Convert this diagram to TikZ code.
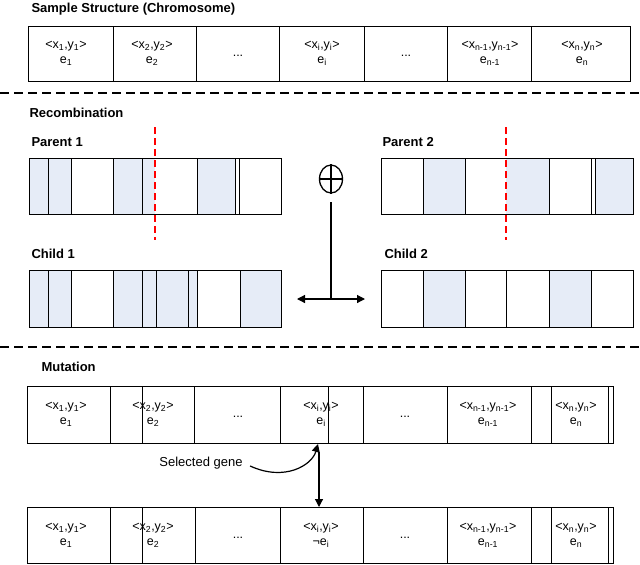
\documentclass[tikz,border=0pt]{standalone}
\usepackage{fontspec}
\setmainfont{Liberation Sans}
\usetikzlibrary{arrows.meta,shapes.geometric}
\definecolor{cellfill}{HTML}{E6ECF7}
\newcommand{\gsub}[1]{\textsubscript{#1}}
\begin{document}
\begin{tikzpicture}[x=1pt,y=-1pt,
  title/.style={anchor=west,font=\bfseries\fontsize{13}{14}\selectfont},
  cell/.style={font=\fontsize{12.5}{15}\selectfont,align=center},
  sep/.style={line width=2pt,dash pattern=on 9pt off 5pt},
  red/.style={draw=red,line width=1.3pt,dash pattern=on 7pt off 4pt},
  box/.style={draw=black,line width=0.6pt},
  arr/.style={line width=1.2pt,-{Triangle[length=8pt,width=8pt]}}]
\useasboundingbox (0,0) rectangle (640,565);
% top
\node[title] (t1) at (28,9) {Sample Structure (Chromosome)};
\draw[box] (28,26) rectangle (630,81);
\foreach \x in {113,196,279,364,447,531} \draw[box] (\x,26) -- (\x,81);
\foreach \x/\a/\b [count=\i] in {66/{<x\gsub{1},y\gsub{1}>}/{e\gsub{1}},
  152/{<x\gsub{2},y\gsub{2}>}/{e\gsub{2}}, 322/{<x\gsub{i},y\gsub{i}>}/{e\gsub{i}},
  490/{<x\gsub{n-1},y\gsub{n-1}>}/{e\gsub{n-1}}, 582/{<x\gsub{n},y\gsub{n}>}/{e\gsub{n}}}
  {\node[cell] (a\i) at (\x,53) {\a\\\b};}
\node[cell] (ad1) at (238,56) {...};
\node[cell] (ad2) at (406,56) {...};
\draw[sep] (0,93) -- (640,93);
% recombination
\node[title] (t2) at (26,113) {Recombination};
\node[title] (p1) at (28,142) {Parent 1};
\node[title] (p2) at (379,142) {Parent 2};
\node[title] (c1) at (28,254) {Child 1};
\node[title] (c2) at (381,254) {Child 2};
\foreach \l/\r in {29/48,48/71,113/142,142/155,197/235} \fill[cellfill] (\l,158) rectangle (\r,214);
\draw[box] (29,158) rectangle (281,214);
\foreach \x in {48,71,113,142,197,235,239} \draw[box] (\x,158) -- (\x,214);
\foreach \l/\r in {423/465,506/549,595/633} \fill[cellfill] (\l,158) rectangle (\r,214);
\draw[box] (381,158) rectangle (633,214);
\foreach \x in {423,465,549,591,595} \draw[box] (\x,158) -- (\x,214);
\foreach \l/\r in {29/71,113/197,240/281} \fill[cellfill] (\l,270) rectangle (\r,327);
\draw[box] (29,270) rectangle (281,327);
\foreach \x in {48,71,113,142,156,188,197,240} \draw[box] (\x,270) -- (\x,327);
\foreach \l/\r in {423/465,549/591} \fill[cellfill] (\l,270) rectangle (\r,327);
\draw[box] (381,270) rectangle (633,327);
\foreach \x in {423,465,506,549,591} \draw[box] (\x,270) -- (\x,327);
\draw[red] (155,127) -- (155,240);
\draw[red] (506,127) -- (506,240);
\node[draw,ellipse,minimum width=23pt,minimum height=28pt,inner sep=0pt,line width=1.3pt] (op) at (331,179) {};
\draw[line width=1.3pt] (op.north) -- (op.south) (op.west) -- (op.east);
\coordinate (jt) at (331,202);
\coordinate (jb) at (331,299);
\coordinate (la) at (297,299);
\coordinate (ra) at (365,299);
\draw[line width=1.2pt] (jt) -- (jb);
\draw[arr] (jb) -- (la);
\draw[arr] (jb) -- (ra);
\draw[sep] (0,347) -- (640,347);
% mutation
\node[title] (t3) at (38,367) {Mutation};
\draw[box] (27,386) rectangle (613,443);
\foreach \x in {110,142,194,280,328,363,447,531,551,608} \draw[box] (\x,386) -- (\x,443);
\draw[box] (27,507) rectangle (613,563);
\foreach \x in {110,142,195,280,363,447,531,551,608} \draw[box] (\x,507) -- (\x,563);
\foreach \x/\a/\b [count=\i] in {66/{<x\gsub{1},y\gsub{1}>}/{e\gsub{1}},
  153/{<x\gsub{2},y\gsub{2}>}/{e\gsub{2}}, 321/{<x\gsub{i},y\gsub{i}>}/{e\gsub{i}},
  488/{<x\gsub{n-1},y\gsub{n-1}>}/{e\gsub{n-1}}, 576/{<x\gsub{n},y\gsub{n}>}/{e\gsub{n}}}
  {\node[cell] (m\i) at (\x,414) {\a\\\b};}
\foreach \x/\a/\b [count=\i] in {66/{<x\gsub{1},y\gsub{1}>}/{e\gsub{1}},
  153/{<x\gsub{2},y\gsub{2}>}/{e\gsub{2}}, 321/{<x\gsub{i},y\gsub{i}>}/{¬e\gsub{i}},
  488/{<x\gsub{n-1},y\gsub{n-1}>}/{e\gsub{n-1}}, 576/{<x\gsub{n},y\gsub{n}>}/{e\gsub{n}}}
  {\node[cell] (n\i) at (\x,535) {\a\\\b};}
\node[cell] (md1) at (238,417) {...};
\node[cell] (md2) at (405,417) {...};
\node[cell] (nd1) at (238,538) {...};
\node[cell] (nd2) at (405,538) {...};
\node[cell,font=\fontsize{13}{14}\selectfont] (sg) at (201,463) {Selected gene};
\coordinate (tip) at (318,444);
\coordinate (vs) at (319,452);
\coordinate (ve) at (319,507);
\draw[arr] (sg.east) ++(4,3) .. controls (285,482) and (312,465) .. (tip);
\draw[arr] (vs) -- (ve);
\end{tikzpicture}
\end{document}
